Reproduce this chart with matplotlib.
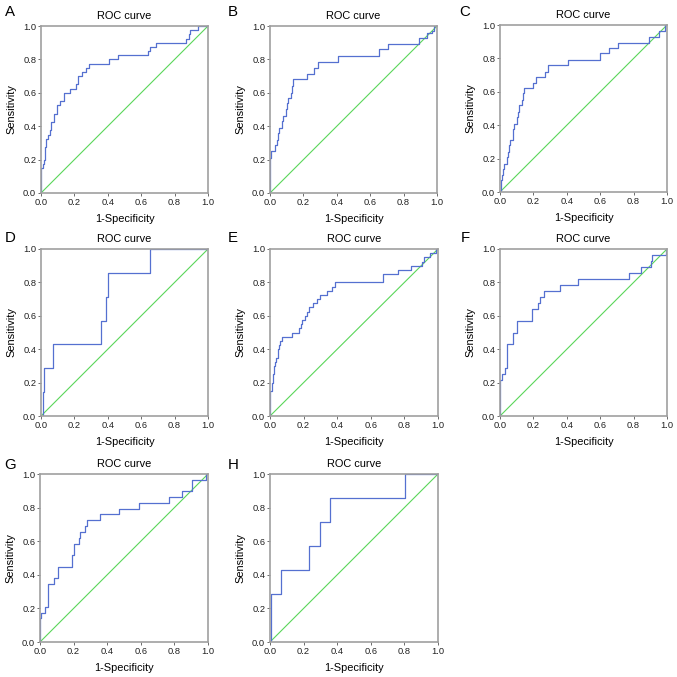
import numpy as np
import matplotlib.pyplot as plt

plt.rcParams['font.family'] = ['Liberation Sans', 'DejaVu Sans']

# ROC step points (1-specificity, sensitivity)
fpr_a = [0, 0, 0.01, 0.02, 0.025, 0.03, 0.04, 0.055, 0.06, 0.075, 0.08, 0.095, 0.115, 0.135, 0.14,
         0.175, 0.21, 0.22, 0.245, 0.27, 0.285, 0.41, 0.46, 0.64, 0.655, 0.69, 0.87, 0.885, 0.895, 0.94, 1.0]
tpr_a = [0, 0.15, 0.175, 0.2, 0.275, 0.325, 0.35, 0.375, 0.425, 0.45, 0.475, 0.525, 0.55, 0.575, 0.6,
         0.625, 0.65, 0.7, 0.725, 0.75, 0.775, 0.8, 0.825, 0.85, 0.875, 0.9, 0.925, 0.95, 0.975, 1.0, 1.0]

fpr_b = [0, 0, 0.005, 0.03, 0.04, 0.05, 0.055, 0.07, 0.075, 0.095, 0.1, 0.11, 0.125, 0.13, 0.14,
         0.22, 0.265, 0.29, 0.41, 0.65, 0.705, 0.89, 0.94, 0.97, 0.98, 1.0]
tpr_b = [0, 0.21, 0.25, 0.29, 0.32, 0.36, 0.39, 0.43, 0.46, 0.5, 0.54, 0.57, 0.6, 0.64, 0.68,
         0.71, 0.75, 0.785, 0.82, 0.86, 0.89, 0.93, 0.96, 0.97, 1.0, 1.0]

fpr_c = [0, 0.005, 0.01, 0.02, 0.025, 0.04, 0.045, 0.055, 0.06, 0.075, 0.08, 0.085, 0.1, 0.11, 0.115,
         0.13, 0.14, 0.145, 0.2, 0.215, 0.27, 0.29, 0.41, 0.6, 0.65, 0.705, 0.89, 0.95, 0.99, 1.0]
tpr_c = [0, 0.07, 0.1, 0.14, 0.17, 0.21, 0.24, 0.28, 0.31, 0.34, 0.38, 0.41, 0.45, 0.48, 0.52,
         0.55, 0.59, 0.62, 0.655, 0.69, 0.72, 0.76, 0.79, 0.83, 0.86, 0.895, 0.93, 0.965, 1.0, 1.0]

fpr_d = [0, 0.01, 0.02, 0.07, 0.36, 0.39, 0.40, 0.65, 1.0]
tpr_d = [0, 0.143, 0.286, 0.429, 0.571, 0.714, 0.857, 1.0, 1.0]

fpr_e = [0, 0, 0.01, 0.02, 0.025, 0.03, 0.035, 0.045, 0.055, 0.06, 0.07, 0.13, 0.17, 0.185, 0.19,
         0.21, 0.22, 0.23, 0.255, 0.28, 0.295, 0.34, 0.37, 0.385, 0.67, 0.76, 0.84, 0.905, 0.915,
         0.95, 0.99, 1.0]
tpr_e = [0, 0.15, 0.2, 0.25, 0.3, 0.325, 0.35, 0.4, 0.425, 0.45, 0.475, 0.5, 0.525, 0.55, 0.575,
         0.6, 0.625, 0.65, 0.675, 0.7, 0.725, 0.75, 0.775, 0.8, 0.85, 0.875, 0.9, 0.925, 0.95,
         0.975, 1.0, 1.0]

fpr_f = [0, 0, 0.01, 0.03, 0.04, 0.075, 0.1, 0.19, 0.23, 0.24, 0.265, 0.36, 0.47, 0.77, 0.845,
         0.905, 0.91, 0.995, 1.0]
tpr_f = [0, 0.214, 0.25, 0.286, 0.429, 0.5, 0.571, 0.643, 0.679, 0.714, 0.75, 0.786, 0.821, 0.857,
         0.893, 0.929, 0.964, 1.0, 1.0]

fpr_g = [0, 0, 0.005, 0.03, 0.045, 0.085, 0.11, 0.19, 0.2, 0.235, 0.24, 0.27, 0.28, 0.36, 0.47,
         0.59, 0.765, 0.845, 0.905, 0.99, 1.0]
tpr_g = [0, 0.14, 0.172, 0.207, 0.345, 0.379, 0.448, 0.517, 0.586, 0.621, 0.655, 0.69, 0.724, 0.759,
         0.793, 0.828, 0.862, 0.897, 0.966, 1.0, 1.0]

fpr_h = [0, 0.005, 0.065, 0.235, 0.295, 0.355, 0.805, 1.0]
tpr_h = [0, 0.286, 0.429, 0.571, 0.714, 0.857, 1.0, 1.0]

panels = ['A', 'B', 'C', 'D', 'E', 'F', 'G', 'H']
curves = [(fpr_a, tpr_a), (fpr_b, tpr_b), (fpr_c, tpr_c), (fpr_d, tpr_d),
          (fpr_e, tpr_e), (fpr_f, tpr_f), (fpr_g, tpr_g), (fpr_h, tpr_h)]

# axes boxes in pixels: left, right, top, bottom
boxes = [(41, 208, 26, 193), (270, 437, 26, 193), (500, 667, 25, 192),
         (41, 208, 249, 416), (270, 438, 249, 416), (500, 667, 249, 416),
         (40, 208, 474, 642), (270, 438, 474, 642)]
letter_pos = [(10, 12), (233, 12), (465, 12), (10, 238), (233, 238), (465, 238),
              (10, 465), (233, 465)]

W = 677
fig = plt.figure(figsize=(W / 100, W / 100), dpi=100)

for i in range(8):
    l, r, t, b = boxes[i]
    ax = fig.add_axes([l / W, 1 - b / W, (r - l) / W, (b - t) / W])
    ax.plot([0, 1], [0, 1], color='#5ad65a', lw=0.8)
    fx, ty = curves[i]
    ax.plot(fx, ty, color='#5570d0', lw=0.9, drawstyle='steps-post')
    ax.set_xlim(0, 1)
    ax.set_ylim(0, 1)
    ax.set_xticks(np.arange(0, 1.01, 0.2))
    ax.set_yticks(np.arange(0, 1.01, 0.2))
    ax.set_xticklabels(['0.0', '0.2', '0.4', '0.6', '0.8', '1.0'])
    ax.set_yticklabels(['0.0', '0.2', '0.4', '0.6', '0.8', '1.0'])
    ax.tick_params(labelsize=6.7, length=2, width=0.6, color='#555555', pad=1.5,
                   labelcolor='#222222')
    for s in ax.spines.values():
        s.set_color('#a0a0a0')
        s.set_linewidth(1.2)
    ax.set_title('ROC curve', fontsize=7.9, pad=5)
    ax.set_xlabel('1-Specificity', fontsize=7.9, labelpad=5)
    ax.set_ylabel('Sensitivity', fontsize=7.9, labelpad=4.5)
    lx, ly = letter_pos[i]
    fig.text(lx / W, 1 - ly / W, panels[i], fontsize=10.8, ha='center', va='center')

fig.savefig('out.png', dpi=100)
